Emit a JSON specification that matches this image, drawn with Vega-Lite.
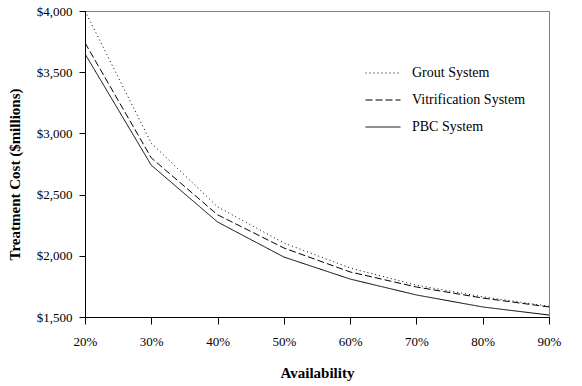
{
  "$schema": "https://vega.github.io/schema/vega-lite/v6.json",
  "width": 464,
  "height": 306,
  "autosize": {"type": "none"},
  "padding": {"left": 85, "top": 11, "right": 33, "bottom": 69},
  "background": "white",
  "config": {
    "font": "Liberation Serif",
    "view": {"stroke": "#808080", "strokeWidth": 1},
    "axis": {"grid": false, "labelFlush": false, "domainColor": "black", "tickColor": "black", "labelColor": "black", "titleColor": "black", "labelFont": "Liberation Serif", "titleFont": "Liberation Serif", "labelFontSize": 13, "titleFontSize": 15, "titleFontWeight": "bold"}
  },
  "data": {
    "values": [
      {"availability": 0.2, "cost": 4000, "system": "Grout System"},
      {"availability": 0.3, "cost": 2920, "system": "Grout System"},
      {"availability": 0.4, "cost": 2400, "system": "Grout System"},
      {"availability": 0.5, "cost": 2105, "system": "Grout System"},
      {"availability": 0.6, "cost": 1900, "system": "Grout System"},
      {"availability": 0.7, "cost": 1760, "system": "Grout System"},
      {"availability": 0.8, "cost": 1665, "system": "Grout System"},
      {"availability": 0.9, "cost": 1588, "system": "Grout System"},
      {"availability": 0.2, "cost": 3740, "system": "Vitrification System"},
      {"availability": 0.3, "cost": 2800, "system": "Vitrification System"},
      {"availability": 0.4, "cost": 2335, "system": "Vitrification System"},
      {"availability": 0.5, "cost": 2064, "system": "Vitrification System"},
      {"availability": 0.6, "cost": 1868, "system": "Vitrification System"},
      {"availability": 0.7, "cost": 1745, "system": "Vitrification System"},
      {"availability": 0.8, "cost": 1655, "system": "Vitrification System"},
      {"availability": 0.9, "cost": 1582, "system": "Vitrification System"},
      {"availability": 0.2, "cost": 3650, "system": "PBC System"},
      {"availability": 0.3, "cost": 2740, "system": "PBC System"},
      {"availability": 0.4, "cost": 2276, "system": "PBC System"},
      {"availability": 0.5, "cost": 1990, "system": "PBC System"},
      {"availability": 0.6, "cost": 1810, "system": "PBC System"},
      {"availability": 0.7, "cost": 1680, "system": "PBC System"},
      {"availability": 0.8, "cost": 1582, "system": "PBC System"},
      {"availability": 0.9, "cost": 1516, "system": "PBC System"}
    ]
  },
  "mark": {"type": "line", "color": "black", "strokeWidth": 1, "clip": true},
  "encoding": {
    "x": {
      "field": "availability", "type": "quantitative",
      "scale": {"domain": [0.2, 0.9], "nice": false, "zero": false},
      "axis": {"values": [0.2, 0.3, 0.4, 0.5, 0.6, 0.7, 0.8, 0.9], "format": ".0%", "tickSize": 7, "labelPadding": 11, "title": "Availability", "titleX": 232, "titleY": 55, "titleBaseline": "middle"}
    },
    "y": {
      "field": "cost", "type": "quantitative",
      "scale": {"domain": [1500, 4000], "nice": false, "zero": false},
      "axis": {"values": [1500, 2000, 2500, 3000, 3500, 4000], "format": "$,.0f", "tickSize": 6, "labelPadding": 7, "title": "Treatment Cost ($millions)", "titleX": -71, "titleY": 163, "titleAngle": -90, "titleBaseline": "middle", "titleAlign": "center"}
    },
    "strokeDash": {
      "field": "system", "type": "nominal",
      "scale": {"domain": ["Grout System", "Vitrification System", "PBC System"], "range": [[1, 3], [7, 3], [1, 0]]},
      "legend": {"title": null, "orient": "none", "legendX": 280, "legendY": 44, "symbolType": "stroke", "symbolSize": 1225, "symbolStrokeWidth": 1, "symbolStrokeColor": "black", "labelFont": "Liberation Serif", "labelFontSize": 14, "labelColor": "black", "labelOffset": 11, "rowPadding": 2}
    }
  }
}
